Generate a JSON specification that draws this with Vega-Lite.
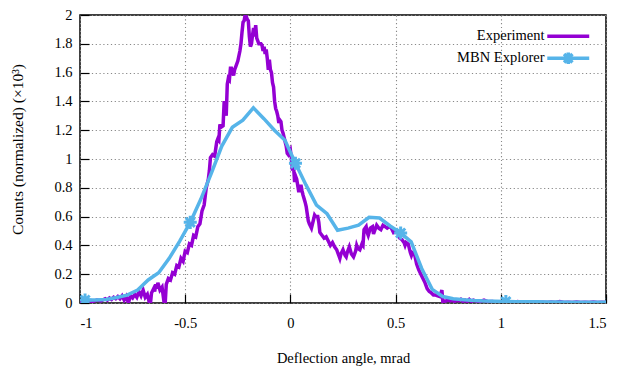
{
  "$schema": "https://vega.github.io/schema/vega-lite/v6.json",
  "width": 526,
  "height": 288,
  "autosize": {"type": "none"},
  "padding": {"left": 80, "top": 15, "right": 13, "bottom": 64},
  "background": "white",
  "config": {
    "view": {"stroke": "black", "strokeWidth": 1.5},
    "font": "Liberation Serif",
    "axis": {
      "labelFont": "Liberation Serif",
      "labelFontSize": 14.5,
      "labelColor": "black",
      "titleFont": "Liberation Serif",
      "titleFontSize": 14.5,
      "titleFontWeight": "normal",
      "titleColor": "black",
      "domain": false,
      "tickColor": "black",
      "tickWidth": 1.2,
      "tickSize": -9
    }
  },
  "resolve": {"axis": {"x": "independent", "y": "independent"}},
  "datasets": {
    "exp": [
      {"x": -1.0, "y": 0.01}, {"x": -0.98, "y": 0.01}, {"x": -0.96, "y": 0.015}, {"x": -0.94, "y": 0.01},
      {"x": -0.92, "y": 0.02}, {"x": -0.9, "y": 0.015}, {"x": -0.88, "y": 0.03}, {"x": -0.87, "y": 0.02},
      {"x": -0.86, "y": 0.035}, {"x": -0.85, "y": 0.025}, {"x": -0.84, "y": 0.04}, {"x": -0.83, "y": 0.03},
      {"x": -0.82, "y": 0.045}, {"x": -0.81, "y": 0.03}, {"x": -0.8, "y": 0.05}, {"x": -0.79, "y": 0.02},
      {"x": -0.78, "y": 0.045}, {"x": -0.77, "y": 0.0}, {"x": -0.76, "y": 0.05}, {"x": -0.75, "y": 0.035},
      {"x": -0.74, "y": 0.06}, {"x": -0.73, "y": 0.04}, {"x": -0.72, "y": 0.08}, {"x": -0.71, "y": 0.05},
      {"x": -0.7, "y": 0.09}, {"x": -0.69, "y": 0.04}, {"x": -0.68, "y": 0.06}, {"x": -0.67, "y": 0.0},
      {"x": -0.665, "y": 0.0}, {"x": -0.66, "y": 0.07}, {"x": -0.65, "y": 0.1}, {"x": -0.645, "y": 0.08},
      {"x": -0.64, "y": 0.13}, {"x": -0.635, "y": 0.1}, {"x": -0.63, "y": 0.14}, {"x": -0.62, "y": 0.09},
      {"x": -0.61, "y": 0.11}, {"x": -0.6, "y": 0.0}, {"x": -0.595, "y": 0.0}, {"x": -0.59, "y": 0.13},
      {"x": -0.58, "y": 0.17}, {"x": -0.57, "y": 0.16}, {"x": -0.56, "y": 0.21}, {"x": -0.55, "y": 0.2},
      {"x": -0.54, "y": 0.26}, {"x": -0.53, "y": 0.25}, {"x": -0.52, "y": 0.31}, {"x": -0.51, "y": 0.29},
      {"x": -0.5, "y": 0.36}, {"x": -0.49, "y": 0.35}, {"x": -0.48, "y": 0.41}, {"x": -0.47, "y": 0.4},
      {"x": -0.46, "y": 0.47}, {"x": -0.45, "y": 0.46}, {"x": -0.44, "y": 0.53}, {"x": -0.43, "y": 0.55},
      {"x": -0.42, "y": 0.64}, {"x": -0.41, "y": 0.68}, {"x": -0.4, "y": 0.8}, {"x": -0.39, "y": 0.86},
      {"x": -0.385, "y": 0.92}, {"x": -0.38, "y": 1.01}, {"x": -0.37, "y": 1.03}, {"x": -0.36, "y": 1.02},
      {"x": -0.35, "y": 1.12}, {"x": -0.345, "y": 1.14}, {"x": -0.34, "y": 1.13}, {"x": -0.335, "y": 1.24},
      {"x": -0.33, "y": 1.22}, {"x": -0.32, "y": 1.23}, {"x": -0.315, "y": 1.39}, {"x": -0.31, "y": 1.39},
      {"x": -0.305, "y": 1.3}, {"x": -0.3, "y": 1.52}, {"x": -0.295, "y": 1.56}, {"x": -0.29, "y": 1.55},
      {"x": -0.285, "y": 1.63}, {"x": -0.28, "y": 1.63}, {"x": -0.27, "y": 1.58}, {"x": -0.265, "y": 1.62},
      {"x": -0.26, "y": 1.64}, {"x": -0.25, "y": 1.68}, {"x": -0.24, "y": 1.75}, {"x": -0.235, "y": 1.8},
      {"x": -0.23, "y": 1.88}, {"x": -0.225, "y": 1.95}, {"x": -0.22, "y": 1.96}, {"x": -0.215, "y": 2.0},
      {"x": -0.21, "y": 1.99}, {"x": -0.205, "y": 1.97}, {"x": -0.2, "y": 1.96}, {"x": -0.195, "y": 1.85},
      {"x": -0.19, "y": 1.78}, {"x": -0.185, "y": 1.8}, {"x": -0.18, "y": 1.86}, {"x": -0.175, "y": 1.91},
      {"x": -0.17, "y": 1.85}, {"x": -0.165, "y": 1.93}, {"x": -0.16, "y": 1.84}, {"x": -0.155, "y": 1.82},
      {"x": -0.15, "y": 1.8}, {"x": -0.14, "y": 1.8}, {"x": -0.135, "y": 1.79}, {"x": -0.13, "y": 1.75},
      {"x": -0.125, "y": 1.78}, {"x": -0.12, "y": 1.73}, {"x": -0.115, "y": 1.76}, {"x": -0.11, "y": 1.7},
      {"x": -0.105, "y": 1.62}, {"x": -0.1, "y": 1.69}, {"x": -0.095, "y": 1.62}, {"x": -0.09, "y": 1.6},
      {"x": -0.085, "y": 1.53}, {"x": -0.08, "y": 1.5}, {"x": -0.075, "y": 1.4}, {"x": -0.07, "y": 1.35},
      {"x": -0.065, "y": 1.33}, {"x": -0.06, "y": 1.3}, {"x": -0.055, "y": 1.25}, {"x": -0.05, "y": 1.27},
      {"x": -0.045, "y": 1.26}, {"x": -0.04, "y": 1.2}, {"x": -0.035, "y": 1.18}, {"x": -0.03, "y": 1.15},
      {"x": -0.025, "y": 1.12}, {"x": -0.02, "y": 1.09}, {"x": -0.015, "y": 1.04}, {"x": -0.01, "y": 1.03},
      {"x": 0.0, "y": 1.06}, {"x": 0.005, "y": 1.0}, {"x": 0.01, "y": 0.92}, {"x": 0.015, "y": 0.95},
      {"x": 0.02, "y": 0.84}, {"x": 0.025, "y": 0.88}, {"x": 0.03, "y": 0.86}, {"x": 0.04, "y": 0.77},
      {"x": 0.05, "y": 0.82}, {"x": 0.055, "y": 0.78}, {"x": 0.06, "y": 0.75}, {"x": 0.07, "y": 0.7},
      {"x": 0.075, "y": 0.67}, {"x": 0.08, "y": 0.62}, {"x": 0.085, "y": 0.57}, {"x": 0.09, "y": 0.55},
      {"x": 0.1, "y": 0.52}, {"x": 0.11, "y": 0.58}, {"x": 0.115, "y": 0.61}, {"x": 0.12, "y": 0.6},
      {"x": 0.13, "y": 0.6}, {"x": 0.135, "y": 0.56}, {"x": 0.14, "y": 0.49}, {"x": 0.15, "y": 0.47},
      {"x": 0.16, "y": 0.45}, {"x": 0.17, "y": 0.46}, {"x": 0.18, "y": 0.43}, {"x": 0.19, "y": 0.4},
      {"x": 0.2, "y": 0.42}, {"x": 0.21, "y": 0.39}, {"x": 0.22, "y": 0.37}, {"x": 0.23, "y": 0.33},
      {"x": 0.235, "y": 0.31}, {"x": 0.24, "y": 0.34}, {"x": 0.25, "y": 0.37}, {"x": 0.26, "y": 0.33},
      {"x": 0.265, "y": 0.32}, {"x": 0.27, "y": 0.35}, {"x": 0.28, "y": 0.39}, {"x": 0.29, "y": 0.34},
      {"x": 0.3, "y": 0.32}, {"x": 0.31, "y": 0.36}, {"x": 0.315, "y": 0.4}, {"x": 0.32, "y": 0.38},
      {"x": 0.33, "y": 0.37}, {"x": 0.34, "y": 0.41}, {"x": 0.345, "y": 0.4}, {"x": 0.35, "y": 0.51},
      {"x": 0.36, "y": 0.53}, {"x": 0.365, "y": 0.49}, {"x": 0.37, "y": 0.47}, {"x": 0.38, "y": 0.52},
      {"x": 0.39, "y": 0.53}, {"x": 0.395, "y": 0.48}, {"x": 0.4, "y": 0.5}, {"x": 0.41, "y": 0.54},
      {"x": 0.42, "y": 0.52}, {"x": 0.43, "y": 0.51}, {"x": 0.44, "y": 0.54}, {"x": 0.45, "y": 0.53},
      {"x": 0.46, "y": 0.52}, {"x": 0.47, "y": 0.53}, {"x": 0.48, "y": 0.52}, {"x": 0.49, "y": 0.49},
      {"x": 0.5, "y": 0.5}, {"x": 0.51, "y": 0.49}, {"x": 0.52, "y": 0.45}, {"x": 0.53, "y": 0.44},
      {"x": 0.54, "y": 0.42}, {"x": 0.545, "y": 0.4}, {"x": 0.55, "y": 0.42}, {"x": 0.56, "y": 0.41},
      {"x": 0.57, "y": 0.35}, {"x": 0.575, "y": 0.33}, {"x": 0.58, "y": 0.35}, {"x": 0.59, "y": 0.34},
      {"x": 0.6, "y": 0.27}, {"x": 0.61, "y": 0.23}, {"x": 0.62, "y": 0.2}, {"x": 0.63, "y": 0.17},
      {"x": 0.64, "y": 0.14}, {"x": 0.65, "y": 0.1}, {"x": 0.66, "y": 0.08}, {"x": 0.67, "y": 0.07},
      {"x": 0.68, "y": 0.055}, {"x": 0.69, "y": 0.055}, {"x": 0.7, "y": 0.05}, {"x": 0.71, "y": 0.045},
      {"x": 0.72, "y": 0.09}, {"x": 0.725, "y": 0.0}, {"x": 0.73, "y": 0.01}, {"x": 0.74, "y": 0.015},
      {"x": 0.75, "y": 0.02}, {"x": 0.76, "y": 0.015}, {"x": 0.77, "y": 0.02}, {"x": 0.78, "y": 0.01},
      {"x": 0.79, "y": 0.02}, {"x": 0.8, "y": 0.015}, {"x": 0.81, "y": 0.025}, {"x": 0.82, "y": 0.01},
      {"x": 0.83, "y": 0.02}, {"x": 0.84, "y": 0.01}, {"x": 0.85, "y": 0.025}, {"x": 0.86, "y": 0.01},
      {"x": 0.87, "y": 0.02}, {"x": 0.88, "y": 0.015}, {"x": 0.9, "y": 0.01}, {"x": 0.92, "y": 0.02},
      {"x": 0.94, "y": 0.008}, {"x": 0.96, "y": 0.01}, {"x": 0.98, "y": 0.005}, {"x": 1.0, "y": 0.008},
      {"x": 1.02, "y": 0.003}, {"x": 1.04, "y": 0.008}, {"x": 1.06, "y": 0.004}, {"x": 1.08, "y": 0.01},
      {"x": 1.1, "y": 0.004}, {"x": 1.12, "y": 0.006}, {"x": 1.14, "y": 0.003}, {"x": 1.16, "y": 0.008},
      {"x": 1.18, "y": 0.004}, {"x": 1.2, "y": 0.006}, {"x": 1.22, "y": 0.003}, {"x": 1.24, "y": 0.007},
      {"x": 1.26, "y": 0.004}, {"x": 1.28, "y": 0.01}, {"x": 1.3, "y": 0.004}, {"x": 1.32, "y": 0.006},
      {"x": 1.34, "y": 0.003}, {"x": 1.36, "y": 0.007}, {"x": 1.38, "y": 0.004}, {"x": 1.4, "y": 0.006},
      {"x": 1.42, "y": 0.003}, {"x": 1.44, "y": 0.007}, {"x": 1.46, "y": 0.004}, {"x": 1.48, "y": 0.006},
      {"x": 1.5, "y": 0.004}
    ],
    "mbn": [
      {"x": -0.976, "y": 0.02}, {"x": -0.926, "y": 0.02}, {"x": -0.876, "y": 0.025}, {"x": -0.826, "y": 0.038},
      {"x": -0.776, "y": 0.055}, {"x": -0.726, "y": 0.09}, {"x": -0.676, "y": 0.16}, {"x": -0.626, "y": 0.21},
      {"x": -0.576, "y": 0.31}, {"x": -0.526, "y": 0.43}, {"x": -0.476, "y": 0.56}, {"x": -0.426, "y": 0.72},
      {"x": -0.376, "y": 0.9}, {"x": -0.326, "y": 1.09}, {"x": -0.276, "y": 1.22}, {"x": -0.226, "y": 1.27},
      {"x": -0.176, "y": 1.355}, {"x": -0.126, "y": 1.28}, {"x": -0.076, "y": 1.2}, {"x": -0.026, "y": 1.13},
      {"x": 0.024, "y": 0.97}, {"x": 0.074, "y": 0.82}, {"x": 0.124, "y": 0.68}, {"x": 0.174, "y": 0.62},
      {"x": 0.224, "y": 0.505}, {"x": 0.274, "y": 0.52}, {"x": 0.324, "y": 0.54}, {"x": 0.374, "y": 0.595},
      {"x": 0.424, "y": 0.59}, {"x": 0.474, "y": 0.535}, {"x": 0.524, "y": 0.486}, {"x": 0.574, "y": 0.425},
      {"x": 0.624, "y": 0.24}, {"x": 0.674, "y": 0.095}, {"x": 0.724, "y": 0.045}, {"x": 0.774, "y": 0.03},
      {"x": 0.824, "y": 0.022}, {"x": 0.874, "y": 0.017}, {"x": 0.924, "y": 0.014}, {"x": 0.974, "y": 0.012},
      {"x": 1.024, "y": 0.01}, {"x": 1.074, "y": 0.009}, {"x": 1.124, "y": 0.008}, {"x": 1.174, "y": 0.008},
      {"x": 1.224, "y": 0.007}, {"x": 1.274, "y": 0.007}, {"x": 1.324, "y": 0.006}, {"x": 1.374, "y": 0.006},
      {"x": 1.424, "y": 0.006}, {"x": 1.474, "y": 0.005}, {"x": 1.524, "y": 0.005}
    ]
  },
  "layer": [
    {
      "data": {"name": "exp"},
      "mark": {"type": "line", "strokeWidth": 3.5, "clip": true, "strokeJoin": "miter"},
      "encoding": {
        "x": {
          "field": "x", "type": "quantitative",
          "scale": {"domain": [-1, 1.5], "nice": false, "zero": false},
          "axis": {
            "orient": "bottom",
            "title": "Deflection angle, mrad",
            "values": [-1, -0.5, 0, 0.5, 1, 1.5],
            "labelExpr": "'' + datum.value",
            "labelPadding": 22,
            "titlePadding": 22,
            "grid": true,
            "gridColor": "#888888",
            "gridDash": [1.2, 2.6],
            "gridWidth": 1.1,
            "gridOpacity": 1
          }
        },
        "y": {
          "field": "y", "type": "quantitative",
          "scale": {"domain": [0, 2], "nice": false},
          "axis": {
            "orient": "left",
            "title": "Counts (normalized) (×10³)",
            "titleFontSize": 15.5,
            "titleY": 134,
            "values": [0, 0.2, 0.4, 0.6, 0.8, 1, 1.2, 1.4, 1.6, 1.8, 2],
            "labelExpr": "'' + datum.value",
            "labelPadding": 17,
            "titlePadding": 28,
            "grid": true,
            "gridColor": "#888888",
            "gridDash": [1.2, 2.6],
            "gridWidth": 1.1,
            "gridOpacity": 1
          }
        },
        "color": {
          "datum": "Experiment",
          "type": "nominal",
          "scale": {"domain": ["Experiment", "MBN Explorer"], "range": ["#9400d3", "#56b4e9"]},
          "legend": {
            "title": null,
            "orient": "none",
            "legendX": 481,
            "legendY": 14,
            "labelFont": "Liberation Serif",
            "labelFontSize": 14.5,
            "labelColor": "black",
            "labelAlign": "right",
            "labelOffset": -31,
            "symbolType": "M-4,0H4",
            "symbolSize": 110,
            "symbolStrokeWidth": 3.5,
            "rowPadding": 1,
            "encoding": {
              "symbols": {
                "shape": {
                  "condition": {"test": "datum.value === 'MBN Explorer'", "value": "M-4,0H4M0,-1.1V1.1M-0.8,-0.8L0.8,0.8M-0.8,0.8L0.8,-0.8M-1.1,0H1.1"},
                  "value": "M-4,0H4"
                }
              }
            }
          }
        }
      }
    },
    {
      "data": {"name": "mbn"},
      "mark": {"type": "line", "strokeWidth": 3.5, "clip": true},
      "encoding": {
        "x": {"field": "x", "type": "quantitative", "axis": null},
        "y": {"field": "y", "type": "quantitative", "axis": null},
        "color": {"datum": "MBN Explorer", "type": "nominal"}
      }
    },
    {
      "data": {"name": "mbn"},
      "transform": [
        {"window": [{"op": "row_number", "as": "rn"}]},
        {"filter": "(datum.rn - 1) % 10 === 0"}
      ],
      "mark": {
        "type": "point",
        "shape": "M-1,0H1M0,-1V1M-0.7,-0.7L0.7,0.7M-0.7,0.7L0.7,-0.7",
        "size": 170,
        "strokeWidth": 3,
        "filled": false,
        "opacity": 1,
        "clip": true
      },
      "encoding": {
        "x": {"field": "x", "type": "quantitative", "axis": null},
        "y": {"field": "y", "type": "quantitative", "axis": null},
        "color": {"datum": "MBN Explorer", "type": "nominal"}
      }
    }
  ]
}
